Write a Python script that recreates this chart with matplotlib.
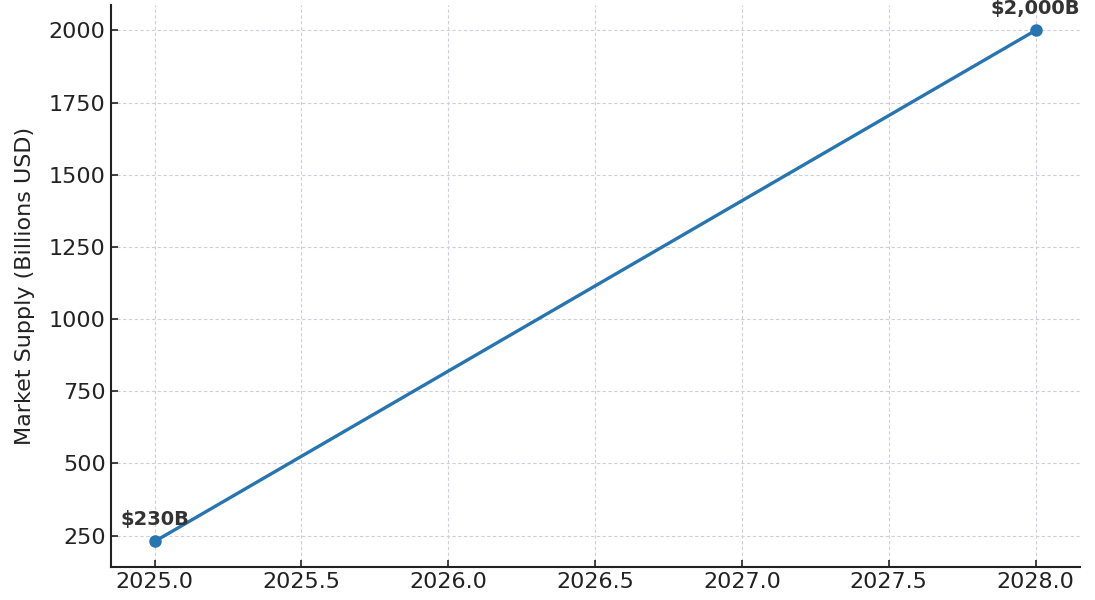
import matplotlib
matplotlib.use('Agg')
import matplotlib.pyplot as plt

# data
years = [2025, 2028]
supply = [230, 2000]
labels = ['$230B', '$2,000B']

plt.rcParams.update({'font.size': 16, 'font.family': 'DejaVu Sans'})

fig, ax = plt.subplots(figsize=(10.95, 6.0), dpi=100)
fig.subplots_adjust(left=0.101, right=0.986, bottom=0.055, top=0.992)

ax.plot(years, supply, color='#2775b0', linewidth=2.4, marker='o', markersize=8)

for x, y, txt in zip(years, supply, labels):
    ax.annotate(txt, (x, y), xytext=(0, 9), textcoords='offset points',
                ha='center', va='bottom', fontsize=14, fontweight='bold', color='#333333')

ax.set_ylabel('Market Supply (Billions USD)', color='#222222', fontsize=16, labelpad=10)
ax.set_xticks([2025.0, 2025.5, 2026.0, 2026.5, 2027.0, 2027.5, 2028.0])
ax.set_xticklabels(['%.1f' % t for t in ax.get_xticks()])
ax.set_yticks([250, 500, 750, 1000, 1250, 1500, 1750, 2000])

ax.grid(True, linestyle=(0, (3, 2.2)), color='#cfcfd8', linewidth=0.8)
ax.set_axisbelow(True)
for s in ['top', 'right']:
    ax.spines[s].set_visible(False)
for s in ['left', 'bottom']:
    ax.spines[s].set_linewidth(1.5)
    ax.spines[s].set_color('#222222')
ax.tick_params(direction='in', length=5, width=1.2, colors='#222222', labelsize=16)

fig.savefig('out.png', dpi=100)
